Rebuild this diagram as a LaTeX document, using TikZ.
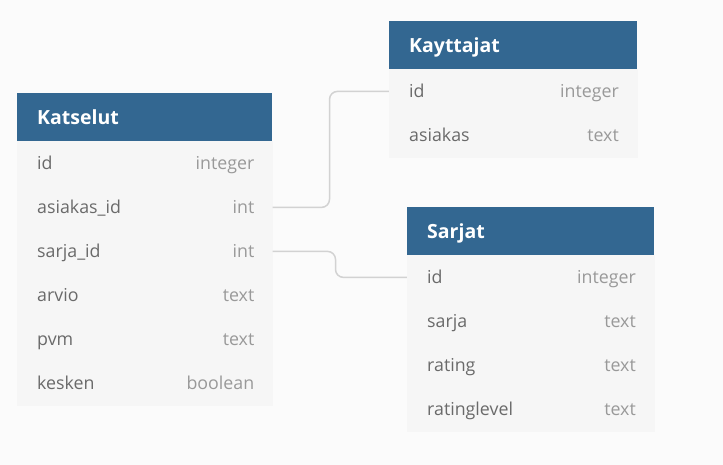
\documentclass[tikz,border=0pt]{standalone}
\usepackage{fontspec}
\setmainfont{Open Sans}
\usepackage{tikz}
\usetikzlibrary{positioning}

\definecolor{pagegray}{HTML}{FBFBFB}
\definecolor{headblue}{HTML}{336791}
\definecolor{rowgray}{HTML}{F6F6F6}
\definecolor{namegray}{HTML}{6A6A6A}
\definecolor{typegray}{HTML}{999999}
\definecolor{linegray}{HTML}{D2D2D2}

\newcommand{\headfont}{\fontsize{19.5}{22}\selectfont\bfseries}
\newcommand{\colfont}{\fontsize{17.8}{20}\selectfont}

\begin{document}
\begin{tikzpicture}[x=1pt, y=-1pt, node distance=0pt,
  head/.style={rectangle, anchor=north west, fill=headblue, text=white, font=\headfont, text width=#1, inner xsep=20pt, inner ysep=0pt, minimum height=48pt, align=left, text height=18pt, text depth=4pt},
  row/.style={rectangle, fill=rowgray, draw=rowgray, line width=0.6pt, text=namegray, font=\colfont, text width=#1, inner xsep=20pt, inner ysep=0pt, minimum height=43.4pt, align=left, text height=16pt, text depth=3pt},
  fieldtype/.style={text=typegray, font=\colfont, inner sep=0pt, text height=16pt, text depth=3pt},
  link/.style={draw=linegray, line width=1.5pt, rounded corners=8pt}]

% Page
\fill[pagegray] (0,0) rectangle (723,465);
\useasboundingbox (0,0) rectangle (723,465);

% Katselut
\node (katselut) [head=215pt] at (17,93) {Katselut};
\node (katselut-id) [row=215pt, below=of katselut] {id};
\node (katselut-asiakasid) [row=215pt, below=of katselut-id] {asiakas\_id};
\node (katselut-sarjaid) [row=215pt, below=of katselut-asiakasid] {sarja\_id};
\node (katselut-arvio) [row=215pt, below=of katselut-sarjaid] {arvio};
\node (katselut-pvm) [row=215pt, below=of katselut-arvio] {pvm};
\node (katselut-kesken) [row=215pt, below=of katselut-pvm] {kesken};
\node (katselut-id-t) [fieldtype, left=18pt of katselut-id.east] {integer};
\node (katselut-asiakasid-t) [fieldtype, left=18pt of katselut-asiakasid.east] {int};
\node (katselut-sarjaid-t) [fieldtype, left=18pt of katselut-sarjaid.east] {int};
\node (katselut-arvio-t) [fieldtype, left=18pt of katselut-arvio.east] {text};
\node (katselut-pvm-t) [fieldtype, left=18pt of katselut-pvm.east] {text};
\node (katselut-kesken-t) [fieldtype, left=18pt of katselut-kesken.east] {boolean};

% Kayttajat
\node (kayttajat) [head=208pt] at (389,21) {Kayttajat};
\node (kayttajat-id) [row=208pt, below=of kayttajat] {id};
\node (kayttajat-asiakas) [row=208pt, below=of kayttajat-id] {asiakas};
\node (kayttajat-id-t) [fieldtype, left=18.5pt of kayttajat-id.east] {integer};
\node (kayttajat-asiakas-t) [fieldtype, left=18.5pt of kayttajat-asiakas.east] {text};

% Sarjat
\node (sarjat) [head=207pt] at (407,207) {Sarjat};
\node (sarjat-id) [row=207pt, below=of sarjat] {id};
\node (sarjat-sarja) [row=207pt, below=of sarjat-id] {sarja};
\node (sarjat-rating) [row=207pt, below=of sarjat-sarja] {rating};
\node (sarjat-ratinglevel) [row=207pt, below=of sarjat-rating] {ratinglevel};
\node (sarjat-id-t) [fieldtype, left=18.5pt of sarjat-id.east] {integer};
\node (sarjat-sarja-t) [fieldtype, left=18.5pt of sarjat-sarja.east] {text};
\node (sarjat-rating-t) [fieldtype, left=18.5pt of sarjat-rating.east] {text};
\node (sarjat-ratinglevel-t) [fieldtype, left=18.5pt of sarjat-ratinglevel.east] {text};

% Links
\draw [link] (katselut-asiakasid.east) -- ++(57,0) |- (kayttajat-id.west);
\draw [link] (katselut-sarjaid.east) -- ++(63,0) |- (sarjat-id.west);

\end{tikzpicture}
\end{document}
